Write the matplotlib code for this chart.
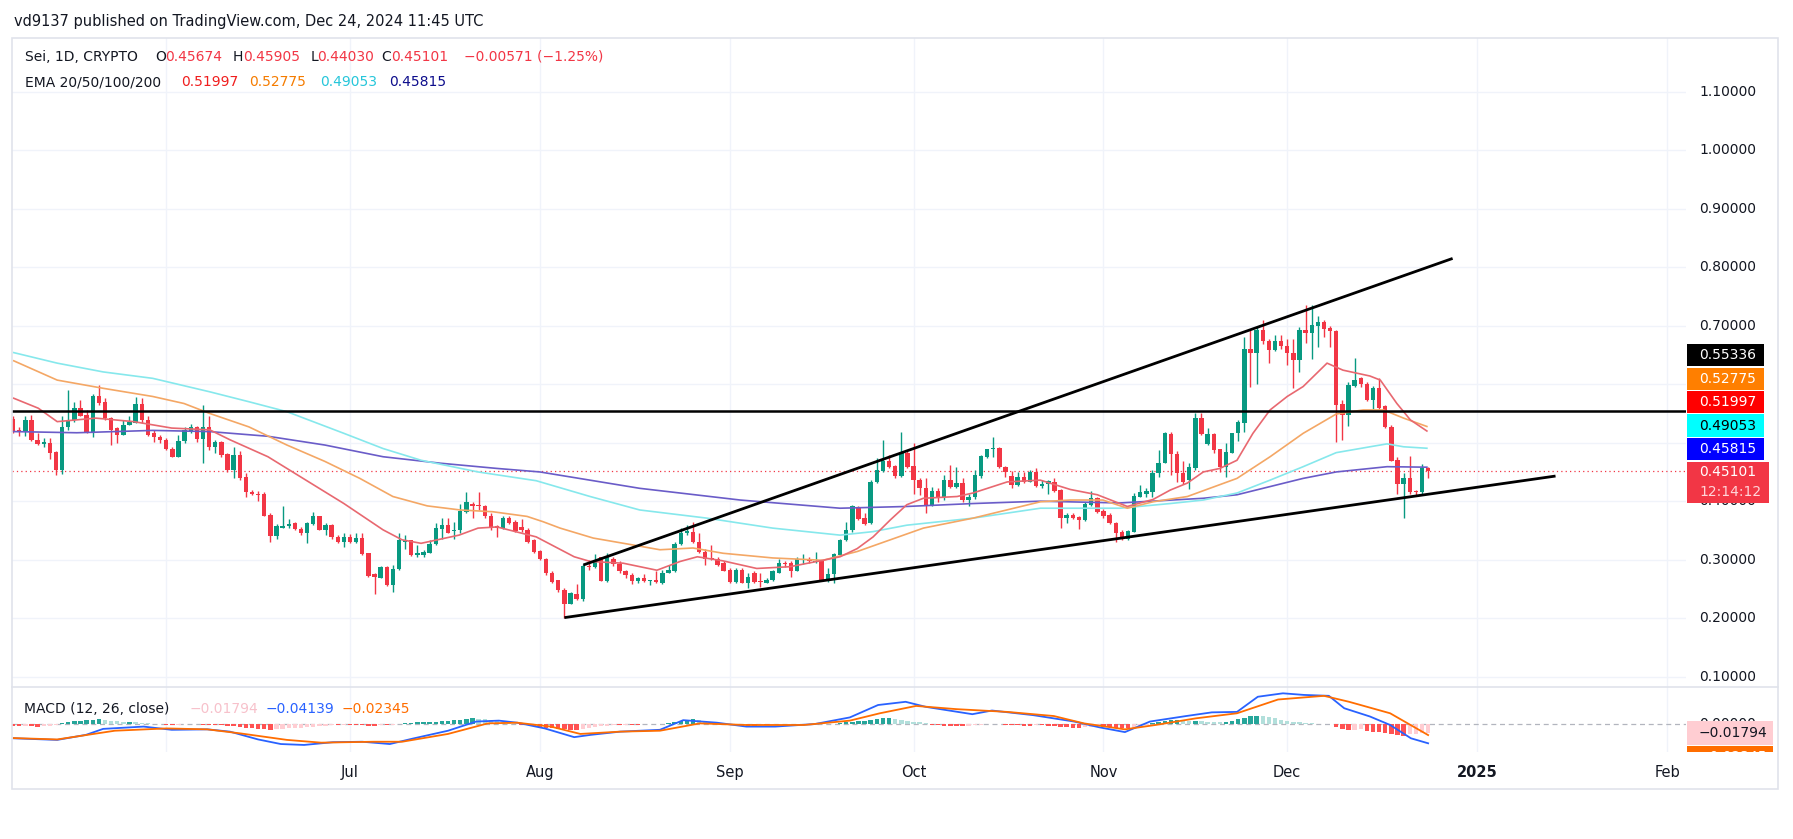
import numpy as np
import pandas as pd
import matplotlib
matplotlib.use("Agg")
import matplotlib.pyplot as plt
import matplotlib.dates as mdates
from matplotlib.patches import Rectangle
from matplotlib.transforms import Bbox, TransformedBbox

plt.rcParams['font.family'] = ['DejaVu Sans']

# Sei 1D candles, 2024-05-07 .. 2024-12-24
first_day = "2024-05-07"
opens = [
    0.540, 0.522, 0.518, 0.539, 0.505, 0.497, 0.499, 0.484, 0.453, 0.526,
    0.538, 0.559, 0.547, 0.519, 0.580, 0.570, 0.543, 0.525, 0.514, 0.531,
    0.534, 0.567, 0.539, 0.516, 0.509, 0.505, 0.490, 0.476, 0.503, 0.519,
    0.526, 0.507, 0.526, 0.492, 0.501, 0.481, 0.453, 0.479, 0.441, 0.416,
    0.413, 0.412, 0.376, 0.341, 0.355, 0.357, 0.362, 0.352, 0.346, 0.361,
    0.374, 0.351, 0.359, 0.339, 0.330, 0.338, 0.330, 0.337, 0.311, 0.275,
    0.269, 0.288, 0.256, 0.284, 0.331, 0.333, 0.308, 0.308, 0.312, 0.327,
    0.352, 0.360, 0.349, 0.350, 0.382, 0.396, 0.393, 0.392, 0.375, 0.358,
    0.354, 0.372, 0.364, 0.356, 0.350, 0.333, 0.315, 0.302, 0.278, 0.265,
    0.248, 0.225, 0.241, 0.232, 0.290, 0.287, 0.304, 0.264, 0.302, 0.292,
    0.281, 0.274, 0.264, 0.268, 0.264, 0.265, 0.261, 0.278, 0.281, 0.326,
    0.345, 0.348, 0.331, 0.313, 0.303, 0.301, 0.294, 0.282, 0.262, 0.283,
    0.261, 0.277, 0.264, 0.261, 0.265, 0.278, 0.295, 0.294, 0.281, 0.299,
    0.302, 0.296, 0.298, 0.265, 0.275, 0.308, 0.334, 0.350, 0.390, 0.371,
    0.362, 0.432, 0.452, 0.468, 0.460, 0.443, 0.482, 0.460, 0.436, 0.422,
    0.394, 0.418, 0.407, 0.437, 0.424, 0.431, 0.402, 0.407, 0.443, 0.476,
    0.489, 0.491, 0.459, 0.443, 0.428, 0.442, 0.433, 0.450, 0.426, 0.429,
    0.433, 0.419, 0.371, 0.376, 0.373, 0.368, 0.394, 0.406, 0.384, 0.376,
    0.363, 0.348, 0.335, 0.348, 0.408, 0.413, 0.416, 0.449, 0.466, 0.515,
    0.480, 0.449, 0.436, 0.456, 0.543, 0.498, 0.515, 0.489, 0.458, 0.483,
    0.516, 0.534, 0.661, 0.654, 0.693, 0.674, 0.658, 0.673, 0.665, 0.654,
    0.641, 0.693, 0.688, 0.700, 0.707, 0.696, 0.691, 0.566, 0.547, 0.597,
    0.610, 0.600, 0.573, 0.593, 0.563, 0.527, 0.471, 0.430, 0.439, 0.418,
    0.415, 0.45674]
highs = [
    0.545, 0.527, 0.545, 0.547, 0.516, 0.508, 0.508, 0.485, 0.545, 0.590,
    0.570, 0.573, 0.556, 0.584, 0.599, 0.576, 0.544, 0.527, 0.539, 0.545,
    0.578, 0.576, 0.545, 0.522, 0.513, 0.508, 0.493, 0.513, 0.527, 0.532,
    0.529, 0.564, 0.545, 0.505, 0.503, 0.482, 0.493, 0.485, 0.448, 0.419,
    0.418, 0.416, 0.379, 0.361, 0.392, 0.369, 0.365, 0.356, 0.365, 0.382,
    0.375, 0.362, 0.361, 0.342, 0.345, 0.344, 0.346, 0.345, 0.311, 0.277,
    0.290, 0.290, 0.291, 0.345, 0.343, 0.334, 0.325, 0.317, 0.334, 0.362,
    0.371, 0.371, 0.365, 0.396, 0.416, 0.399, 0.416, 0.393, 0.379, 0.359,
    0.375, 0.374, 0.368, 0.369, 0.355, 0.335, 0.317, 0.303, 0.280, 0.266,
    0.251, 0.244, 0.259, 0.293, 0.300, 0.310, 0.305, 0.312, 0.304, 0.297,
    0.282, 0.277, 0.271, 0.276, 0.266, 0.281, 0.282, 0.291, 0.331, 0.354,
    0.359, 0.365, 0.345, 0.318, 0.325, 0.305, 0.298, 0.285, 0.285, 0.285,
    0.277, 0.280, 0.277, 0.268, 0.282, 0.301, 0.298, 0.298, 0.305, 0.310,
    0.305, 0.314, 0.299, 0.285, 0.311, 0.335, 0.365, 0.393, 0.391, 0.379,
    0.436, 0.473, 0.505, 0.479, 0.462, 0.519, 0.488, 0.499, 0.439, 0.439,
    0.425, 0.422, 0.445, 0.462, 0.459, 0.439, 0.413, 0.453, 0.479, 0.490,
    0.509, 0.493, 0.460, 0.452, 0.450, 0.450, 0.453, 0.456, 0.436, 0.437,
    0.439, 0.420, 0.379, 0.379, 0.374, 0.399, 0.418, 0.408, 0.386, 0.379,
    0.365, 0.351, 0.351, 0.414, 0.428, 0.422, 0.453, 0.488, 0.519, 0.519,
    0.486, 0.469, 0.466, 0.550, 0.551, 0.525, 0.517, 0.490, 0.500, 0.517,
    0.539, 0.680, 0.693, 0.698, 0.710, 0.677, 0.684, 0.684, 0.677, 0.677,
    0.698, 0.735, 0.735, 0.717, 0.710, 0.699, 0.693, 0.573, 0.604, 0.644,
    0.613, 0.604, 0.597, 0.610, 0.564, 0.530, 0.476, 0.448, 0.477, 0.419,
    0.464, 0.45905]
lows = [
    0.516, 0.512, 0.512, 0.503, 0.496, 0.493, 0.472, 0.444, 0.447, 0.522,
    0.536, 0.545, 0.517, 0.510, 0.564, 0.539, 0.496, 0.499, 0.513, 0.530,
    0.533, 0.533, 0.511, 0.501, 0.500, 0.488, 0.475, 0.475, 0.500, 0.516,
    0.502, 0.466, 0.487, 0.482, 0.475, 0.450, 0.439, 0.437, 0.408, 0.411,
    0.401, 0.374, 0.331, 0.336, 0.354, 0.354, 0.351, 0.342, 0.329, 0.359,
    0.350, 0.342, 0.336, 0.329, 0.322, 0.328, 0.329, 0.308, 0.271, 0.241,
    0.268, 0.255, 0.245, 0.282, 0.319, 0.307, 0.305, 0.305, 0.311, 0.325,
    0.336, 0.345, 0.336, 0.345, 0.380, 0.371, 0.385, 0.371, 0.351, 0.339,
    0.353, 0.361, 0.347, 0.348, 0.329, 0.312, 0.300, 0.274, 0.260, 0.245,
    0.201, 0.224, 0.231, 0.230, 0.282, 0.285, 0.264, 0.262, 0.289, 0.278,
    0.268, 0.258, 0.260, 0.262, 0.257, 0.260, 0.258, 0.277, 0.279, 0.325,
    0.342, 0.329, 0.311, 0.291, 0.300, 0.290, 0.280, 0.261, 0.261, 0.260,
    0.251, 0.261, 0.254, 0.260, 0.264, 0.277, 0.288, 0.271, 0.280, 0.293,
    0.295, 0.294, 0.264, 0.262, 0.261, 0.307, 0.332, 0.348, 0.368, 0.359,
    0.361, 0.431, 0.450, 0.456, 0.439, 0.442, 0.456, 0.413, 0.411, 0.379,
    0.391, 0.399, 0.402, 0.422, 0.422, 0.399, 0.391, 0.403, 0.439, 0.473,
    0.476, 0.456, 0.441, 0.422, 0.426, 0.431, 0.432, 0.424, 0.422, 0.412,
    0.416, 0.354, 0.363, 0.369, 0.352, 0.367, 0.392, 0.379, 0.372, 0.361,
    0.331, 0.333, 0.334, 0.347, 0.407, 0.408, 0.408, 0.442, 0.465, 0.445,
    0.432, 0.429, 0.420, 0.454, 0.513, 0.496, 0.482, 0.450, 0.442, 0.482,
    0.503, 0.519, 0.595, 0.601, 0.669, 0.637, 0.656, 0.661, 0.633, 0.593,
    0.621, 0.671, 0.643, 0.664, 0.681, 0.664, 0.502, 0.505, 0.529, 0.595,
    0.595, 0.572, 0.557, 0.558, 0.525, 0.468, 0.413, 0.371, 0.413, 0.411,
    0.411, 0.44030]
closes = [
    0.519, 0.518, 0.539, 0.505, 0.497, 0.501, 0.483, 0.453, 0.526, 0.539,
    0.559, 0.546, 0.519, 0.580, 0.568, 0.543, 0.522, 0.514, 0.531, 0.536,
    0.567, 0.539, 0.514, 0.509, 0.505, 0.490, 0.476, 0.503, 0.521, 0.526,
    0.507, 0.526, 0.492, 0.502, 0.479, 0.453, 0.479, 0.439, 0.416, 0.412,
    0.411, 0.375, 0.341, 0.357, 0.358, 0.361, 0.352, 0.346, 0.362, 0.374,
    0.351, 0.359, 0.338, 0.330, 0.338, 0.330, 0.337, 0.309, 0.272, 0.271,
    0.288, 0.256, 0.284, 0.333, 0.333, 0.308, 0.311, 0.314, 0.327, 0.355,
    0.360, 0.346, 0.351, 0.384, 0.398, 0.392, 0.392, 0.374, 0.354, 0.355,
    0.372, 0.363, 0.349, 0.350, 0.331, 0.314, 0.302, 0.277, 0.262, 0.248,
    0.225, 0.243, 0.232, 0.290, 0.287, 0.297, 0.264, 0.304, 0.292, 0.280,
    0.273, 0.264, 0.268, 0.264, 0.265, 0.262, 0.278, 0.282, 0.327, 0.346,
    0.349, 0.331, 0.313, 0.302, 0.301, 0.291, 0.281, 0.262, 0.282, 0.261,
    0.271, 0.262, 0.262, 0.265, 0.280, 0.295, 0.293, 0.280, 0.301, 0.302,
    0.297, 0.298, 0.265, 0.276, 0.309, 0.334, 0.350, 0.391, 0.369, 0.361,
    0.433, 0.453, 0.468, 0.459, 0.443, 0.482, 0.459, 0.436, 0.422, 0.394,
    0.418, 0.408, 0.437, 0.424, 0.431, 0.402, 0.408, 0.445, 0.477, 0.489,
    0.491, 0.459, 0.450, 0.428, 0.442, 0.433, 0.450, 0.426, 0.429, 0.435,
    0.418, 0.371, 0.376, 0.372, 0.368, 0.395, 0.406, 0.382, 0.375, 0.362,
    0.346, 0.335, 0.349, 0.409, 0.415, 0.418, 0.449, 0.466, 0.516, 0.480,
    0.449, 0.433, 0.459, 0.543, 0.515, 0.515, 0.488, 0.458, 0.484, 0.516,
    0.535, 0.661, 0.654, 0.693, 0.673, 0.658, 0.673, 0.665, 0.653, 0.641,
    0.693, 0.688, 0.701, 0.707, 0.695, 0.691, 0.564, 0.547, 0.599, 0.608,
    0.600, 0.573, 0.593, 0.560, 0.526, 0.469, 0.429, 0.439, 0.416, 0.415,
    0.45674, 0.45101]

# EMA curves (day offset from 2024-07-01, value)
ema20_days = [-54.9, -50.9, -47.8, -41.5, -35.3, -29.1, -22.9, -19.6, -13.4, -7.2, -1.0, 5.4, 8.5,
              11.6, 17.8, 20.9, 24.0, 30.4, 36.6, 39.2, 44.6, 50.1, 53.9, 56.7, 60.9, 66.4, 71.8,
              77.2, 80.0, 82.8, 85.4, 88.2, 90.9, 93.6, 99.1, 101.7, 107.3, 112.7, 117.6, 122.0,
              126.9, 131.1, 133.9, 136.7, 139.3, 142.0, 144.8, 147.4, 150.2, 153.0, 155.6, 159.5,
              162.1, 166.5, 168.2, 170.9, 173.1, 175.8]
ema20_vals = [0.576, 0.559, 0.536, 0.542, 0.536, 0.525, 0.522, 0.505, 0.476, 0.436, 0.396, 0.351, 0.334,
              0.328, 0.342, 0.354, 0.356, 0.339, 0.305, 0.297, 0.294, 0.282, 0.297, 0.305, 0.298, 0.285, 0.288,
              0.299, 0.305, 0.319, 0.339, 0.368, 0.394, 0.405, 0.408, 0.414, 0.433, 0.436, 0.420, 0.411,
              0.391, 0.403, 0.419, 0.431, 0.450, 0.456, 0.470, 0.516, 0.556, 0.579, 0.596, 0.636,
              0.624, 0.614, 0.607, 0.567, 0.539, 0.51997]
ema50_days = [-54.9, -47.8, -40.3, -32.2, -27.1, -22.9, -16.5, -10.3, -4.1, 1.6, 7.0, 12.6, 18.0, 23.3,
              28.9, 31.5, 34.3, 39.7, 45.2, 50.6, 56.0, 60.9, 69.0, 77.2, 82.8, 88.2, 93.6, 101.7,
              112.7, 117.6, 122.9, 126.9, 131.1, 136.7, 144.8, 150.2, 155.6, 161.0, 165.4, 168.7,
              172.0, 175.8]
ema50_vals = [0.640, 0.607, 0.593, 0.579, 0.567, 0.550, 0.527, 0.496, 0.468, 0.439, 0.408, 0.392, 0.385, 0.382,
              0.374, 0.365, 0.354, 0.337, 0.327, 0.317, 0.320, 0.311, 0.303, 0.299, 0.314, 0.334, 0.354, 0.371,
              0.399, 0.402, 0.402, 0.388, 0.399, 0.408, 0.439, 0.476, 0.516, 0.549, 0.556, 0.556,
              0.542, 0.52775]
ema100_days = [-54.9, -47.8, -40.3, -32.2, -22.9, -16.5, -10.3, -1.0, 5.4, 11.6, 20.9, 30.4, 39.2, 47.3,
               58.3, 69.0, 80.0, 85.4, 90.9, 101.7, 112.7, 125.7, 133.9, 139.3, 144.8, 150.2, 155.6,
               161.0, 166.5, 169.3, 172.0, 175.8]
ema100_vals = [0.654, 0.636, 0.621, 0.610, 0.587, 0.570, 0.553, 0.516, 0.490, 0.470, 0.450, 0.435, 0.408, 0.385,
               0.371, 0.354, 0.342, 0.348, 0.359, 0.371, 0.388, 0.388, 0.396, 0.402, 0.414, 0.436, 0.459,
               0.483, 0.493, 0.498, 0.493, 0.49053]
ema200_days = [-54.9, -44.6, -32.2, -22.9, -13.4, -4.1, 5.4, 14.7, 24.0, 31.0, 47.3, 63.7, 80.0, 90.9,
               101.7, 112.7, 125.7, 139.3, 144.8, 150.2, 155.6, 161.0, 169.3, 175.8]
ema200_vals = [0.519, 0.517, 0.521, 0.519, 0.511, 0.496, 0.476, 0.465, 0.456, 0.450, 0.422, 0.402, 0.388, 0.391,
               0.396, 0.400, 0.397, 0.405, 0.411, 0.425, 0.439, 0.450, 0.459, 0.45815]

# MACD (12, 26, close)
macd_days = [-54.9, -47.8, -43.1, -40.3, -33.7, -29.1, -23.3, -19.6, -15.0, -11.3, -7.5, -2.8, 2.0, 6.5,
             10.3, 16.0, 20.6, 24.3, 27.3, 31.8, 36.6, 39.3, 44.1, 50.6, 54.4, 59.9, 64.7, 69.4, 75.9,
             81.6, 86.2, 90.7, 94.0, 101.6, 104.8, 111.5, 118.2, 122.3, 126.5, 130.6, 136.5, 140.7,
             144.8, 148.2, 152.3, 155.7, 159.8, 162.3, 166.5, 169.8, 173.2, 176.0]
macd_vals = [-0.0305, -0.034, -0.023, -0.010, -0.005, -0.012, -0.011, -0.016, -0.033, -0.043, -0.045, -0.039,
             -0.038, -0.043, -0.031, -0.014, 0.006, 0.008, 0.0035, -0.009, -0.028, -0.023, -0.016, -0.012,
             0.009, 0.0035, -0.005, -0.005, 0.0006, 0.015, 0.042, 0.049, 0.038, 0.022, 0.030, 0.020, 0.006,
             -0.0065, -0.017, 0.006, 0.018, 0.026, 0.027, 0.060, 0.0675, 0.064, 0.062, 0.035, 0.017, -0.0015,
             -0.0305, -0.04139]
signal_days = [-54.9, -47.8, -38.4, -30.0, -23.3, -17.8, -10.3, -4.7, 3.8, 8.5, 16.0, 22.5, 27.3, 32.8,
               37.6, 44.1, 50.6, 57.1, 64.7, 74.1, 81.6, 86.5, 92.4, 99.0, 107.3, 114.9, 119.8, 126.5,
               131.5, 138.1, 144.8, 151.5, 159.0, 163.1, 169.8, 176.0]
signal_vals = [-0.030, -0.033, -0.014, -0.009, -0.011, -0.020, -0.034, -0.040, -0.038, -0.038, -0.021, 0.002,
               0.0035, -0.005, -0.021, -0.016, -0.014, 0.002, -0.0015, -0.0015, 0.008, 0.024, 0.040, 0.033,
               0.027, 0.018, 0.002, -0.011, -0.0015, 0.013, 0.024, 0.054, 0.062, 0.049, 0.024, -0.02345]
hist_vals = [
    -0.004, -0.004, -0.003, -0.004, -0.005, -0.004, -0.003, -0.002,
    0.002, 0.005, 0.007, 0.008, 0.009, 0.010, 0.011,
    0.010, 0.008, 0.007, 0.006, 0.006, 0.005, 0.003, 0.002,
    0.001, 0.001, -0.001, -0.002,
    -0.001, 0.000, 0.001, 0.001, -0.001, -0.002, -0.002, -0.002,
    -0.003, -0.004, -0.006, -0.007, -0.008, -0.010, -0.011, -0.012, -0.011,
    -0.010, -0.009, -0.008, -0.007, -0.006, -0.005, -0.004, -0.003,
    -0.002, -0.002, -0.001, -0.001, -0.001, -0.002, -0.003, -0.003, -0.002, -0.002, -0.001,
    0.001, 0.002, 0.003, 0.004, 0.004, 0.005, 0.006, 0.007, 0.008, 0.009, 0.010, 0.012, 0.013,
    0.012, 0.011, 0.009, 0.007, 0.005, 0.003, 0.001,
    -0.001, -0.002, -0.004, -0.006, -0.008, -0.009, -0.010, -0.011, -0.012, -0.012,
    -0.010, -0.007, -0.005, -0.004,
    -0.003, -0.002, -0.002, -0.001, -0.001, -0.001, 0.000, 0.001, 0.001, 0.001, 0.002,
    0.005, 0.008, 0.010, 0.011,
    0.009, 0.007, 0.005, 0.003, 0.001,
    -0.001, -0.002, -0.003, -0.003, -0.003, -0.002, -0.002,
    -0.001, 0.000, 0.001, 0.001, 0.001, 0.001, 0.001, 0.001, 0.000, 0.000, 0.001, 0.003, 0.005,
    0.006, 0.007, 0.008, 0.010, 0.012, 0.013, 0.014,
    0.012, 0.010, 0.008, 0.006, 0.004, 0.002,
    -0.001, -0.002, -0.003, -0.003, -0.003, -0.004, -0.003, -0.002, -0.001, 0.000,
    0.001, 0.001,
    -0.001, -0.002, -0.002, -0.003, -0.003, -0.002, -0.002, -0.003,
    -0.004, -0.005, -0.006, -0.007, -0.007,
    -0.006, -0.005, -0.004,
    -0.005, -0.006, -0.007, -0.008, -0.008, -0.007,
    -0.005, -0.002,
    0.002, 0.004, 0.007, 0.009, 0.010,
    0.009, 0.007, 0.008, 0.007, 0.006, 0.005, 0.004,
    0.005, 0.008, 0.011, 0.014, 0.017, 0.019,
    0.018, 0.016, 0.013, 0.010, 0.008, 0.006, 0.004, 0.003, 0.002,
    0.001, 0.001, 0.000,
    -0.005, -0.010, -0.013, -0.012, -0.011, -0.014,
    -0.016, -0.017, -0.019, -0.022, -0.024, -0.025, -0.022,
    -0.021, -0.019, -0.01794]

# drawings on the chart
hline_price = 0.55336
lower_trend = ([35.0, 196.8], [0.201, 0.443])
upper_trend = ([38.1, 180.0], [0.291, 0.815])
last_price = 0.45101
price_ticks = [0.1, 0.2, 0.3, 0.4, 0.7, 0.8, 0.9, 1.0, 1.1]   # 0.5 / 0.6 sit under the value boxes
month_labels = ["Jul", "Aug", "Sep", "Oct", "Nov", "Dec", "2025", "Feb"]
month_dates = ["2024-07-01", "2024-08-01", "2024-09-01", "2024-10-01", "2024-11-01",
               "2024-12-01", "2025-01-01", "2025-02-01"]

# ---------------------------------------------------------------
W, H = 1793, 839
UP, DOWN = "#089981", "#F23645"
TXT = "#131722"
GRID = "#f0f3fa"
BORDER = "#e0e3eb"


def fx(x):
    return x / W


def fy(y):
    return 1 - y / H


def clip_rows(t, y_top, y_bot):
    # clip a figure text to a band of rows (pixel coords from the top)
    t.set_clip_box(TransformedBbox(Bbox([[fx(1686), fy(y_bot)], [fx(1778), fy(y_top)]]),
                                   fig.transFigure))
    t.set_clip_on(True)


fig = plt.figure(figsize=(W / 100, H / 100), dpi=100)
fig.patch.set_facecolor("white")

L, R = 12, 1686
ax = fig.add_axes([fx(L), fy(686.7), fx(R) - fx(L), fy(38) - fy(686.7)])
axm = fig.add_axes([fx(L), fy(751.7), fx(R) - fx(L), fy(686.7) - fy(751.7)])

ref = mdates.date2num(pd.Timestamp("2024-07-01"))
dates = mdates.date2num(pd.date_range(first_day, periods=len(closes), freq="D"))
xlim = (ref - 55.18, ref + 218.1)

for a in (ax, axm):
    a.set_xlim(*xlim)
    for s in a.spines.values():
        s.set_visible(False)
    a.set_xticks([])
    a.set_yticks([])
    a.set_facecolor("white")

ax.set_ylim(0.0829, 1.1918)
axm.set_ylim(-0.0597, 0.0819)

# grid
for m in ["2024-06-01"] + month_dates:
    xm = mdates.date2num(pd.Timestamp(m))
    ax.axvline(xm, color=GRID, lw=1, zorder=0)
    axm.axvline(xm, color=GRID, lw=1, zorder=0)
for p in np.arange(0.1, 1.15, 0.1):
    ax.axhline(p, color=GRID, lw=1, zorder=0)

# candles
o = np.array(opens)
h = np.array(highs)
lo = np.array(lows)
c = np.array(closes)
cols = np.where(c >= o, UP, DOWN)
ax.vlines(dates, lo, h, colors=cols, lw=1, zorder=3)
body = np.maximum(np.abs(c - o), 0.0018)
ax.bar(dates, body, bottom=np.minimum(o, c), width=0.72, color=cols, zorder=4, linewidth=0)

# EMAs
ax.plot(ref + np.array(ema200_days), ema200_vals, color="#6a5cc8", lw=1.2, zorder=5)
ax.plot(ref + np.array(ema100_days), ema100_vals, color="#86e8ec", lw=1.2, zorder=5)
ax.plot(ref + np.array(ema50_days), ema50_vals, color="#f4a765", lw=1.2, zorder=5)
ax.plot(ref + np.array(ema20_days), ema20_vals, color="#e86870", lw=1.2, zorder=5)

# drawings
ax.axhline(hline_price, color="black", lw=1.8, zorder=6)
ax.plot(ref + np.array(lower_trend[0]), lower_trend[1], color="black", lw=2, zorder=6,
        solid_capstyle="butt")
ax.plot(ref + np.array(upper_trend[0]), upper_trend[1], color="black", lw=2, zorder=6,
        solid_capstyle="butt")
ax.axhline(last_price, color=DOWN, lw=0.9, ls=(0, (1, 2.5)), zorder=2)

# MACD pane
hv = np.array(hist_vals)
prev = np.concatenate([[hv[0]], hv[:-1]])
hcols = []
for v, pv in zip(hv, prev):
    if v >= 0:
        hcols.append("#26a69a" if v >= pv else "#b2dfdb")
    else:
        hcols.append("#ff5252" if v <= pv else "#ffcdd2")
axm.bar(dates, hv, width=0.72, color=hcols, linewidth=0, zorder=2)
axm.axhline(0, color="#b2b5be", lw=0.9, ls=(0, (4, 3)), zorder=1)
axm.plot(ref + np.array(macd_days), macd_vals, color="#2962ff", lw=1.3, zorder=3)
axm.plot(ref + np.array(signal_days), signal_vals, color="#ff6d00", lw=1.3, zorder=3)

# price scale labels
for p in price_ticks:
    yp = ax.transData.transform((xlim[0], p))[1]
    t = fig.text(fx(1699), yp / fig.bbox.height, f"{p:.5f}", fontsize=10, color=TXT,
                 va="center", ha="left")
    if abs(p - 0.4) < 1e-9:
        clip_rows(t, 503, 520)          # only the lower edge shows below the last-price box
yz = axm.transData.transform((xlim[0], 0.0))[1]
tz = fig.text(fx(1699), yz / fig.bbox.height, "0.00000", fontsize=10, color=TXT, va="center", ha="left")
clip_rows(tz, 700, 720.5)

# time labels
for lab, m in zip(month_labels, month_dates):
    axm.text(mdates.date2num(pd.Timestamp(m)), -0.323, lab, transform=axm.get_xaxis_transform(),
             fontsize=10.5, color=TXT, ha="center", va="center",
             fontweight="bold" if lab == "2025" else "normal", clip_on=False)

# frame and pane separator
fig.add_artist(Rectangle((fx(12), fy(789)), fx(1778) - fx(12), fy(38) - fy(789),
                         transform=fig.transFigure, fill=False, edgecolor=BORDER, lw=1.2))
fig.add_artist(plt.Line2D([fx(12), fx(1778)], [fy(686.7), fy(686.7)],
                          transform=fig.transFigure, color=BORDER, lw=1.2))


def price_box(y0, y1, x1, bg, lines, clip=None):
    fig.add_artist(Rectangle((fx(1687), fy(min(y1, clip or y1))), fx(x1) - fx(1687),
                             fy(y0) - fy(min(y1, clip or y1)),
                             transform=fig.transFigure, facecolor=bg, edgecolor="none"))
    n = len(lines)
    for i, (t, tc) in enumerate(lines):
        yc = y0 + (y1 - y0) * (i + 0.5) / n
        tt = fig.text(fx(1699), fy(yc), t, color=tc, fontsize=10, va="center", ha="left")
        if clip is not None:
            clip_rows(tt, y0, clip)


price_box(344.3, 366, 1764, "#000000", [("0.55336", "white")])
price_box(368.3, 390, 1764, "#ff7f00", [("0.52775", "white")])
price_box(391, 413.3, 1764, "#ff0000", [("0.51997", "white")])
price_box(414.3, 436.7, 1764, "#00ffff", [("0.49053", "black")])
price_box(437.7, 460, 1764, "#0000ff", [("0.45815", "white")])
price_box(461.7, 502.7, 1769, "#f23645", [("0.45101", "white"), ("12:14:12", "#ffd5d9")])
price_box(721, 745, 1773, "#ffcdd2", [("\u22120.01794", TXT)])
price_box(745.5, 768, 1773, "#ff6d00", [("\u22120.02345", "white")], clip=751.7)

# header and legends
fig.text(fx(14), fy(21.7), "vd9137 published on TradingView.com, Dec 24, 2024 11:45 UTC",
         fontsize=10.5, color=TXT, va="center", ha="left")

red = "#f23645"
leg1 = [(25, "Sei, 1D, CRYPTO", TXT), (155, "O", TXT), (165.3, "0.45674", red),
        (232.7, "H", TXT), (243.4, "0.45905", red), (310.8, "L", TXT), (317.6, "0.44030", red),
        (381.6, "C", TXT), (391.1, "0.45101", red), (464.2, "\u22120.00571 (\u22121.25%)", red)]
for x, t, col in leg1:
    fig.text(fx(x), fy(57), t, fontsize=10, color=col, va="center", ha="left")

leg2 = [(25, "EMA 20/50/100/200", TXT), (180.7, "0.51997", "#f01e1e"), (249.3, "0.52775", "#f57c00"),
        (320.2, "0.49053", "#26c6da"), (388.8, "0.45815", "#0d0d8c")]
for x, t, col in leg2:
    fig.text(fx(x), fy(82), t, fontsize=10, color=col, va="center", ha="left")

leg3 = [(24, "MACD (12, 26, close)", TXT), (189.4, "\u22120.01794", "#f7c1cb"),
        (265.2, "\u22120.04139", "#2962ff"), (341.5, "\u22120.02345", "#ff6d00")]
for x, t, col in leg3:
    fig.text(fx(x), fy(709.3), t, fontsize=10, color=col, va="center", ha="left")

fig.savefig("out.png", dpi=100)
